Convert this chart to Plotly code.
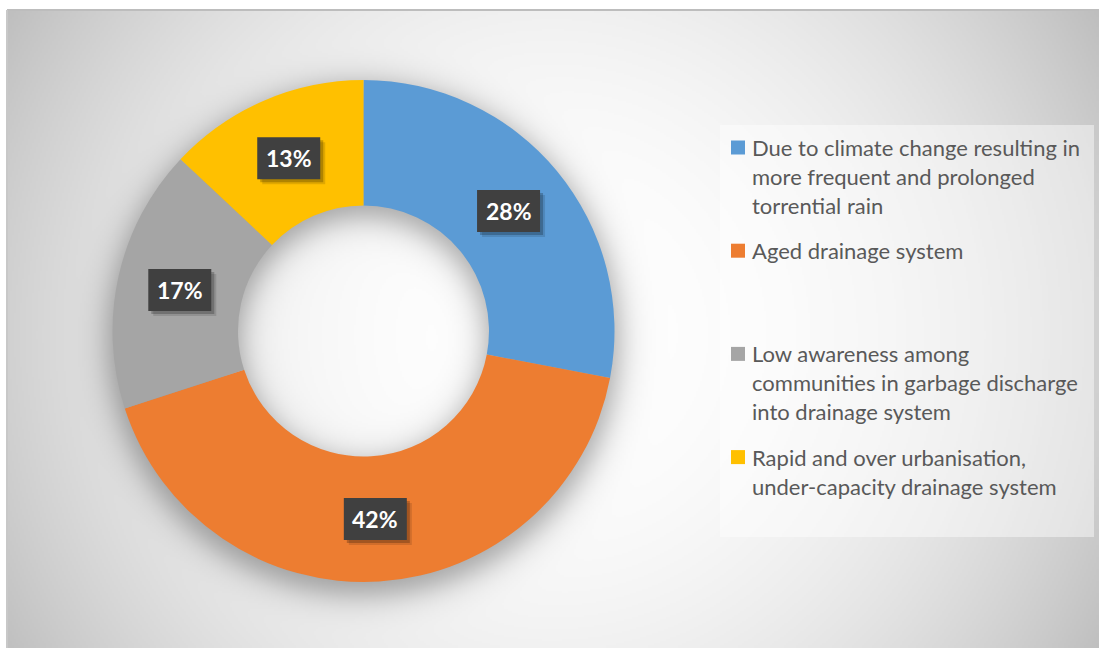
import base64
import struct
import zlib

import numpy as np
import plotly.graph_objects as go

# ---- data -------------------------------------------------------------
causes = [
    "Due to climate change resulting in<br>more frequent and prolonged<br>torrential rain",
    "Aged drainage system",
    "Low awareness among<br>communities in garbage discharge<br>into drainage system",
    "Rapid and over urbanisation,<br>under-capacity drainage system",
]
shares = [28, 42, 17, 13]
colors = ["#5B9BD5", "#ED7D31", "#A5A5A5", "#FFC000"]

# ---- geometry (pixels) -------------------------------------------------
W, H = 1099, 648
FRAME_X0, FRAME_Y0 = 7, 10
CX, CY = 363.5, 331.0          # donut centre
R_OUT = 251.0
HOLE = 0.5
R_IN = R_OUT * HOLE
BOX_W, BOX_H = 63, 42          # percentage label boxes


def px(x):
    return x / W


def py(y):
    return 1 - y / H


# ---- background: radial grey gradient with a soft shadow under the ring -
def make_background(w, h, scale):
    ys, xs = np.mgrid[0:h, 0:w].astype(float)
    X = FRAME_X0 + (xs + 0.5) * scale
    Y = FRAME_Y0 + (ys + 0.5) * scale
    gx, gy = 552.0, 335.0
    d = np.hypot(X - gx, Y - gy) / 632.0
    v = 255.0 - 64.0 * np.clip(d, 0, 1.2) ** 2.2

    # blurred ring shadow, offset slightly downward
    ds = np.hypot(X - CX, Y - (CY + 9))
    s = 22.0
    a = 0.5 * (np.tanh(1.2 * (ds - (R_IN - 4)) / s) - np.tanh(1.2 * (ds - (R_OUT + 5)) / s))
    v = v * (1 - 0.34 * np.clip(a, 0, 1))
    img = np.clip(v, 0, 255).astype(np.uint8)

    # PNG encode (grayscale, Sub filter)
    diff = img.astype(np.int16)
    diff[:, 1:] = img[:, 1:].astype(np.int16) - img[:, :-1].astype(np.int16)
    diff = (diff % 256).astype(np.uint8)
    raw = b"".join(b"\x01" + row.tobytes() for row in diff)

    def chunk(tag, data):
        c = struct.pack(">I", len(data)) + tag + data
        return c + struct.pack(">I", zlib.crc32(tag + data) & 0xFFFFFFFF)

    png = b"\x89PNG\r\n\x1a\n"
    png += chunk(b"IHDR", struct.pack(">IIBBBBB", w, h, 8, 0, 0, 0, 0))
    png += chunk(b"IDAT", zlib.compress(raw, 9))
    png += chunk(b"IEND", b"")
    return "data:image/png;base64," + base64.b64encode(png).decode()


SCALE = 2
bg_w = int(np.ceil((W - FRAME_X0) / SCALE))
bg_h = int(np.ceil((H - FRAME_Y0) / SCALE))
bg_src = make_background(bg_w, bg_h, SCALE)

# ---- figure ------------------------------------------------------------
fig = go.Figure(
    go.Pie(
        labels=[c.replace("<br>", " ") for c in causes],
        values=shares,
        hole=HOLE,
        sort=False,
        direction="clockwise",
        rotation=0,
        marker=dict(colors=colors, line=dict(width=0)),
        textinfo="none",
        showlegend=False,
        domain=dict(
            x=[px(CX - R_OUT), px(CX + R_OUT)],
            y=[py(CY + R_OUT), py(CY - R_OUT)],
        ),
    )
)

annotations = []
shapes = []

# percentage labels in dark boxes at each slice's mid-angle
total = float(sum(shares))
cum = 0.0
r_mid = (R_OUT + R_IN) / 2
for val in shares:
    mid = (cum + val / 2) / total * 2 * np.pi
    cum += val
    lx = CX + r_mid * np.sin(mid)
    ly = CY - r_mid * np.cos(mid)
    # soft drop shadow then the box itself
    for off, fill in ((5, "rgba(0,0,0,0.12)"), (3, "rgba(0,0,0,0.22)")):
        shapes.append(dict(
            type="rect", xref="paper", yref="paper",
            x0=px(lx - BOX_W / 2 + off), x1=px(lx + BOX_W / 2 + off),
            y0=py(ly + BOX_H / 2 + off), y1=py(ly - BOX_H / 2 + off),
            fillcolor=fill, line=dict(width=0),
        ))
    shapes.append(dict(
        type="rect", xref="paper", yref="paper",
        x0=px(lx - BOX_W / 2), x1=px(lx + BOX_W / 2),
        y0=py(ly + BOX_H / 2), y1=py(ly - BOX_H / 2),
        fillcolor="#404040", line=dict(width=0),
    ))
    annotations.append(dict(
        x=px(lx), y=py(ly), xref="paper", yref="paper",
        xanchor="center", yanchor="middle", showarrow=False,
        text=f"{val / total * 100:.0f}%",
        font=dict(family="Lato", size=23, color="white", weight="bold"),
    ))

# legend panel
shapes.append(dict(
    type="rect", xref="paper", yref="paper", layer="below",
    x0=px(720), x1=px(1094), y0=py(537), y1=py(125),
    fillcolor="rgba(255,255,255,0.45)", line=dict(width=0),
))

LEG_Y0, LEG_SLOT, LINE_H = 147.5, 103.2, 29.0
for i, (name, col) in enumerate(zip(causes, colors)):
    y_first = LEG_Y0 + i * LEG_SLOT
    shapes.append(dict(
        type="rect", xref="paper", yref="paper",
        x0=px(731), x1=px(745), y0=py(y_first + 7), y1=py(y_first - 7),
        fillcolor=col, line=dict(width=0),
    ))
    for j, line in enumerate(name.split("<br>")):
        annotations.append(dict(
            x=px(750), y=py(y_first + j * LINE_H), xref="paper", yref="paper",
            xanchor="left", yanchor="middle", showarrow=False, text=line,
            font=dict(family="Lato", size=22, color="#595959"),
        ))

# chart frame edges
shapes.append(dict(
    type="line", xref="paper", yref="paper",
    x0=px(FRAME_X0), x1=1, y0=py(FRAME_Y0), y1=py(FRAME_Y0),
    line=dict(color="#BDBDBD", width=2),
))
shapes.append(dict(
    type="line", xref="paper", yref="paper",
    x0=px(FRAME_X0), x1=px(FRAME_X0), y0=0, y1=py(FRAME_Y0),
    line=dict(color="#C8C8C8", width=2),
))

fig.update_layout(
    width=W, height=H,
    margin=dict(l=0, r=0, t=0, b=0),
    paper_bgcolor="white",
    plot_bgcolor="white",
    images=[dict(
        source=bg_src, xref="paper", yref="paper",
        x=px(FRAME_X0), y=py(FRAME_Y0), sizex=1 - px(FRAME_X0), sizey=py(FRAME_Y0),
        xanchor="left", yanchor="top", sizing="stretch", layer="below",
    )],
    shapes=shapes,
    annotations=annotations,
)

fig.write_html("out.html")
